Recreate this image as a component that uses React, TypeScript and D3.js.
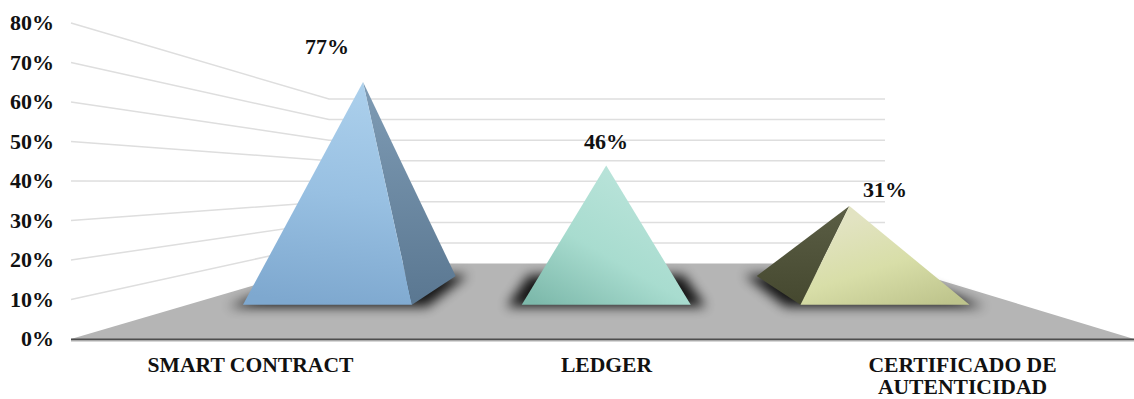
import React from "react";
import * as d3 from "d3";

// Survey results per concept, in percent
const categories = ["SMART CONTRACT", "LEDGER", "CERTIFICADO DE AUTENTICIDAD"];
const values = [77, 46, 31];
const valueLabels = ["77%", "46%", "31%"];
const tickValues = [0, 10, 20, 30, 40, 50, 60, 70, 80];
const faceColors = [
  {
    id: "blue",
    vector: [0.55, 0, 0.45, 1],
    front: ["#acd0ec", "#98c0e2", "#7ea8cf"],
    side: ["#7f9cb5", "#5a7791"],
  },
  {
    id: "teal",
    vector: [0.7, 0.15, 0.1, 1],
    front: ["#b8e3d9", "#a8dccf", "#7db9ab"],
    side: ["#6f9c92", "#4f7a70"],
  },
  {
    id: "olive",
    vector: [0.35, 0.1, 0.85, 1],
    front: ["#e2e3c2", "#d8dea8", "#bec48c"],
    side: ["#5b5e45", "#45482f"],
  },
];

const WIDTH = 1134;
const HEIGHT = 399;
const VANISH_X = 606;
const BASE_HALF = 84.5;
const BASE_FRONT_Y = 304.7;
const BASE_BACK_Y = 276;
const BACK_SHIFT = 0.225;
const APEX_SHIFT = 0.1275;

// Front edge of the chart box, rear wall, and the plane the pyramids stand on
const frontY = d3.scaleLinear().domain([0, 80]).range([339, 23]);
const backY = d3.scaleLinear().domain([0, 80]).range([263.5, 99]);
const apexY = d3.scaleLinear().domain([0, 80]).range([289.6, 73.9]);
const baseX = d3.scalePoint<string>().domain(categories).range([327.5, 885]);
const labelX = d3.scalePoint<string>().domain(categories).range([250.5, 962.5]);

const LEFT_FRONT = 71;
const LEFT_BACK = 329;
const RIGHT_BACK = 885;
const RIGHT_FRONT = 1134;

const line = d3.line();
const poly = (pts: [number, number][]) => line(pts) + "Z";
const serif = "'Liberation Serif', 'Times New Roman', serif";

function Pyramid({ cat, value, color }: { cat: string; value: number; color: (typeof faceColors)[number] }) {
  const cx = baseX(cat) as number;
  const toBack = (x: number) => x + (VANISH_X - x) * BACK_SHIFT;
  const fl: [number, number] = [cx - BASE_HALF, BASE_FRONT_Y];
  const fr: [number, number] = [cx + BASE_HALF, BASE_FRONT_Y];
  const bl: [number, number] = [toBack(fl[0]), BASE_BACK_Y];
  const br: [number, number] = [toBack(fr[0]), BASE_BACK_Y];
  const apex: [number, number] = [cx + (VANISH_X - cx) * APEX_SHIFT, apexY(value)];
  const offCentre = Math.abs(cx - VANISH_X) > 1;
  const side = cx < VANISH_X ? [fr, br, apex] : [fl, bl, apex];
  return (
    <g>
      <path
        d={poly([
          [bl[0] - 12, bl[1] - 1],
          [br[0] + 12, br[1] - 1],
          [fr[0] + 15, fr[1] + 2],
          [fl[0] - 15, fl[1] + 2],
        ])}
        fill="#000"
        opacity={0.88}
        filter="url(#baseShadow)"
      />
      {offCentre && <path d={poly(side as [number, number][])} fill={`url(#${color.id}-side)`} />}
      <path d={poly([fl, fr, apex])} fill={`url(#${color.id}-front)`} />
    </g>
  );
}

export default function App() {
  return (
    <svg
      width={WIDTH}
      height={HEIGHT}
      viewBox={`0 0 ${WIDTH} ${HEIGHT}`}
      style={{ position: "absolute", left: 0, top: 0, background: "#fff" }}
    >
      <defs>
        <filter id="baseShadow" x="-30%" y="-80%" width="160%" height="260%">
          <feGaussianBlur stdDeviation="6" />
        </filter>
        {faceColors.map((c) => (
          <React.Fragment key={c.id}>
            <linearGradient
              id={`${c.id}-front`}
              x1={c.vector[0]}
              y1={c.vector[1]}
              x2={c.vector[2]}
              y2={c.vector[3]}
            >
              <stop offset="0" stopColor={c.front[0]} />
              <stop offset="0.5" stopColor={c.front[1]} />
              <stop offset="1" stopColor={c.front[2]} />
            </linearGradient>
            <linearGradient id={`${c.id}-side`} x1="0" y1="0" x2="0" y2="1">
              <stop offset="0" stopColor={c.side[0]} />
              <stop offset="1" stopColor={c.side[1]} />
            </linearGradient>
          </React.Fragment>
        ))}
      </defs>

      {/* Rear wall gridlines and their run along the side wall */}
      {tickValues.slice(1).map((t) => (
        <g key={t} stroke="#dedede" strokeWidth={1.5} fill="none">
          <path d={line([[LEFT_FRONT, frontY(t)], [LEFT_BACK, backY(t)], [RIGHT_BACK, backY(t)]]) as string} />
        </g>
      ))}

      {/* Floor */}
      <path
        d={poly([
          [LEFT_FRONT, frontY(0)],
          [LEFT_BACK, backY(0)],
          [RIGHT_BACK, backY(0)],
          [RIGHT_FRONT, frontY(0)],
        ])}
        fill="#b5b5b5"
      />
      <line x1={LEFT_FRONT} x2={RIGHT_FRONT} y1={frontY(0) + 0.5} y2={frontY(0) + 0.5} stroke="#4d4d4d" strokeWidth={2} />
      <line x1={LEFT_FRONT} x2={RIGHT_FRONT} y1={frontY(0) + 2} y2={frontY(0) + 2} stroke="#b0b0b0" strokeWidth={1} />

      {categories.map((c, i) => (
        <Pyramid key={c} cat={c} value={values[i]} color={faceColors[i]} />
      ))}

      {/* Value axis */}
      <g fontFamily={serif} fontWeight="bold" fontSize={22} fill="#111" textAnchor="end">
        {tickValues.map((t) => (
          <text key={t} x={54} y={frontY(t) + 7}>
            {t}%
          </text>
        ))}
      </g>

      {/* Value labels */}
      <g fontFamily={serif} fontWeight="bold" fontSize={22} fill="#111" textAnchor="middle">
        <text x={327} y={54}>{valueLabels[0]}</text>
        <text x={606} y={149}>{valueLabels[1]}</text>
        <text x={885} y={197}>{valueLabels[2]}</text>
      </g>

      {/* Category labels */}
      <g fontFamily={serif} fontWeight="bold" fontSize={21.6} fill="#111" textAnchor="middle">
        <text x={labelX(categories[0])} y={372}>SMART CONTRACT</text>
        <text x={labelX(categories[1])} y={372}>LEDGER</text>
        <text x={labelX(categories[2])} y={371.5}>CERTIFICADO DE</text>
        <text x={labelX(categories[2])} y={394}>AUTENTICIDAD</text>
      </g>
    </svg>
  );
}
